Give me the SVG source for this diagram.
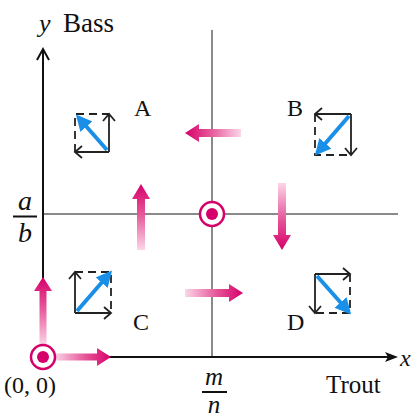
<svg xmlns="http://www.w3.org/2000/svg" width="417" height="418" viewBox="0 0 417 418">
<style>
.ax{stroke:#111;stroke-width:2;fill:none}
.gr{stroke:#8a8a8a;stroke-width:2;fill:none}
.bx{stroke:#222;stroke-width:1.8;fill:none}
.ds{stroke:#222;stroke-width:1.8;fill:none;stroke-dasharray:8 5}
.bl{stroke:#1a8fe8;stroke-width:4;fill:none;marker-end:url(#bh)}
.t{font-family:"Liberation Serif","Times New Roman",serif;fill:#111}
.i{font-style:italic}
.ring{fill:#fff;stroke:#d6006b;stroke-width:2.5}
.dot{fill:#d6006b}
</style>
<defs>
<linearGradient id="gR" x1="0" y1="0" x2="1" y2="0"><stop offset="0" stop-color="#fbd6e8"/><stop offset="0.55" stop-color="#e65598"/><stop offset="1" stop-color="#d6006b"/></linearGradient>
<linearGradient id="gL" x1="1" y1="0" x2="0" y2="0"><stop offset="0" stop-color="#fbd6e8"/><stop offset="0.55" stop-color="#e65598"/><stop offset="1" stop-color="#d6006b"/></linearGradient>
<linearGradient id="gU" x1="0" y1="1" x2="0" y2="0"><stop offset="0" stop-color="#fbd6e8"/><stop offset="0.55" stop-color="#e65598"/><stop offset="1" stop-color="#d6006b"/></linearGradient>
<linearGradient id="gD" x1="0" y1="0" x2="0" y2="1"><stop offset="0" stop-color="#fbd6e8"/><stop offset="0.55" stop-color="#e65598"/><stop offset="1" stop-color="#d6006b"/></linearGradient>
<marker id="bh" viewBox="0 0 10 10" refX="8" refY="5" markerWidth="4" markerHeight="4" orient="auto" markerUnits="strokeWidth"><path d="M0,0 L10,5 L0,10 Z" fill="#1a8fe8"/></marker>
</defs>

<g id="gridlines">
<path class="gr" d="M212,30 V357"/>
<path class="gr" d="M43,214 H398"/>
</g>

<g id="axes">
<path class="ax" d="M43,358 V50"/>
<path class="ax" d="M37,60 L43,49 L49,60"/>
<path class="ax" d="M43,357 H392"/>
<path d="M385,352 L398,357 L385,362 L388,357 Z" fill="#111"/>
</g>

<g id="labels">
<text class="t i" x="39" y="32" font-size="26">y</text>
<text class="t" x="63" y="32" font-size="27">Bass</text>
<text class="t i" x="400" y="366" font-size="24">x</text>
<text class="t" x="326" y="393" font-size="25">Trout</text>
<text class="t" x="4" y="393" font-size="24">(0, 0)</text>
<text class="t i" x="25" y="210" font-size="28" text-anchor="middle">a</text>
<path class="ax" d="M13,216.5 H37"/>
<text class="t i" x="25" y="242" font-size="28" text-anchor="middle">b</text>
<text class="t i" x="214" y="385" font-size="25" text-anchor="middle">m</text>
<path class="ax" d="M202,392 H227"/>
<text class="t i" x="214" y="413" font-size="25" text-anchor="middle">n</text>
</g>

<g id="connectors">
<polygon fill="url(#gL)" points="241,129 199,129 199,124 185,133 199,142 199,137 241,137"/>
<polygon fill="url(#gU)" points="137,250 137,199 132,199 141,184 150,199 145,199 145,250"/>
<polygon fill="url(#gD)" points="278,183 278,235 273,235 282,250 291,235 286,235 286,183"/>
<polygon fill="url(#gR)" points="185,289 229,289 229,284 243,293 229,302 229,297 185,297"/>
<polygon fill="url(#gR)" points="54,353.5 97,353.5 97,348 111,357 97,366 97,360.5 54,360.5"/>
<polygon fill="url(#gU)" points="39.5,345 39.5,291 34,291 43,277 52,291 46.5,291 46.5,345"/>
</g>

<g id="eq-center">
<circle class="ring" cx="212" cy="214" r="12"/>
<circle class="dot" cx="212" cy="214" r="6"/>
</g>
<g id="eq-origin">
<circle class="ring" cx="43" cy="357" r="12"/>
<circle class="dot" cx="43" cy="357" r="6"/>
</g>

<g id="region-A">
<text class="t" x="134" y="116" font-size="24">A</text>
<path class="ds" d="M75,152 V114 H109"/>
<path class="bx" d="M109,152 V114 M103,121 L109,114 L115,121"/>
<path class="bx" d="M109,152 H75 M82,146 L75,152 L82,158"/>
<path class="bl" d="M107,150 L78,117"/>
</g>

<g id="region-B">
<text class="t" x="287" y="116" font-size="24">B</text>
<path class="ds" d="M315,114 V155 H351"/>
<path class="bx" d="M351,114 H315 M322,108 L315,114 L322,120"/>
<path class="bx" d="M351,114 V155 M345,148 L351,155 L357,148"/>
<path class="bl" d="M349,116 L317,153"/>
</g>

<g id="region-C">
<text class="t" x="133" y="330" font-size="24">C</text>
<path class="ds" d="M75,272 H111 V313"/>
<path class="bx" d="M75,313 V272 M69,279 L75,272 L81,279"/>
<path class="bx" d="M75,313 H111 M104,307 L111,313 L104,319"/>
<path class="bl" d="M77,311 L110,273"/>
</g>

<g id="region-D">
<text class="t" x="287" y="330" font-size="24">D</text>
<path class="ds" d="M350,274 V313 H315"/>
<path class="bx" d="M315,274 H350 M343,268 L350,274 L343,280"/>
<path class="bx" d="M315,274 V313 M309,306 L315,313 L321,306"/>
<path class="bl" d="M317,276 L349,312"/>
</g>
</svg>
